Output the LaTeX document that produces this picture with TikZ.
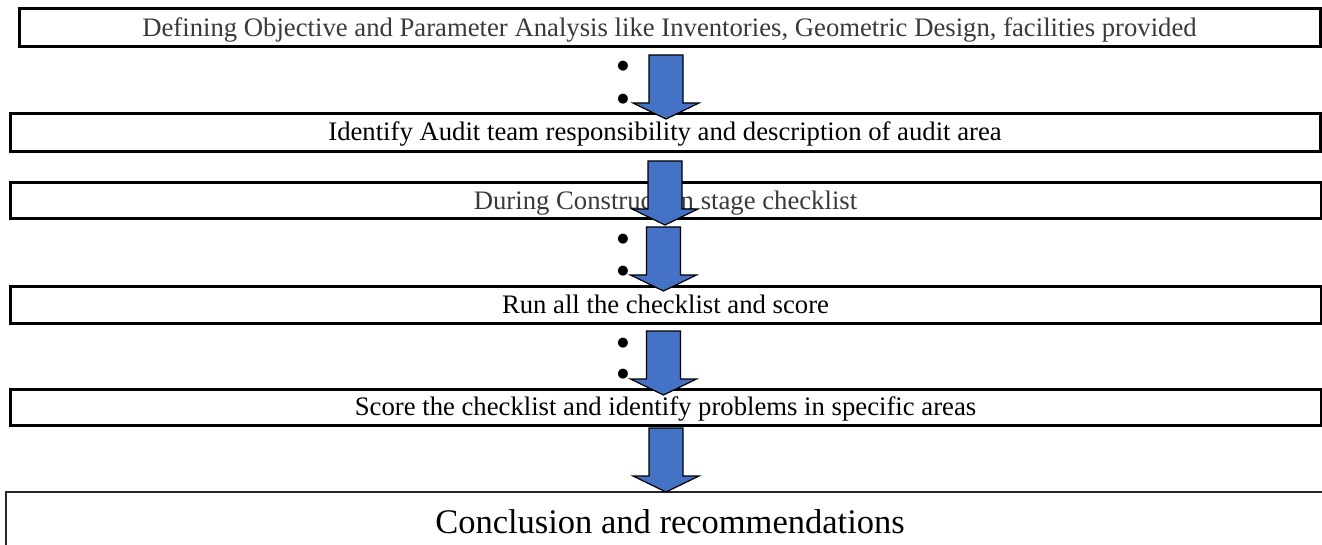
\documentclass[tikz,border=0pt]{standalone}
\usepackage{fontspec}
\setmainfont{Liberation Serif}
\newfontfamily\markfont{DejaVu Sans}
\definecolor{arrowblue}{HTML}{4472C4}
\definecolor{softtext}{HTML}{3A3A3A}
\begin{document}
\begin{tikzpicture}[x=1pt,y=-1pt,
  stage/.style={draw=black, line width=3pt, fill=white, inner sep=0pt,
    text height=20pt, text depth=3pt,
    font=\fontsize{26.7}{30}\selectfont},
  laststage/.style={draw=black!85, line width=2pt, fill=white, inner sep=0pt,
    font=\fontsize{34.5}{40}\selectfont},
  dot/.style={inner sep=0pt, font=\markfont\fontsize{13}{14}\selectfont},
  blockarrow/.pic={
    \draw[fill=arrowblue, draw=black, line width=1.2pt, line join=miter]
      (-17,0) -- (17,0) -- (17,48) -- (33,48) -- (0,64) -- (-33,48) -- (-17,48) -- cycle;
  }]
\useasboundingbox (0,0) rectangle (1322,545);
\clip (0,0) rectangle (1322,545);

% process stages
\node[stage, text=softtext, minimum width=1301pt, minimum height=38pt] (s1) at (669.5,28)
  {Defining Objective and Parameter Analysis like Inventories, Geometric Design, facilities provided};
\node[stage, minimum width=1310pt, minimum height=38pt] (s2) at (665,132.5)
  {Identify Audit team responsibility and description of audit area};
\node[stage, text=softtext, minimum width=1311pt, minimum height=36pt] (s3) at (665.5,201)
  {During Construction stage checklist};
\node[stage, minimum width=1311pt, minimum height=36pt] (s4) at (665.5,305)
  {Run all the checklist and score};
\node[stage, minimum width=1311pt, minimum height=36pt] (s5) at (665.5,407)
  {Score the checklist and identify problems in specific areas};
\node[laststage, minimum width=1328pt, minimum height=60pt] (s6) at (670,522)
  {Conclusion and recommendations};

% bullet marks beside the arrows
\node[dot] (d1) at (623,66) {●};
\node[dot] (d2) at (623,99) {●};
\node[dot] (d3) at (623,239) {●};
\node[dot] (d4) at (623,271) {●};
\node[dot] (d5) at (623,343) {●};
\node[dot] (d6) at (623,374) {●};

% block arrows between stages
\pic at (666,55) {blockarrow};
\pic at (665,161) {blockarrow};
\pic at (663.5,227) {blockarrow};
\pic at (663.5,331) {blockarrow};
\pic at (666,428) {blockarrow};
\end{tikzpicture}
\end{document}
